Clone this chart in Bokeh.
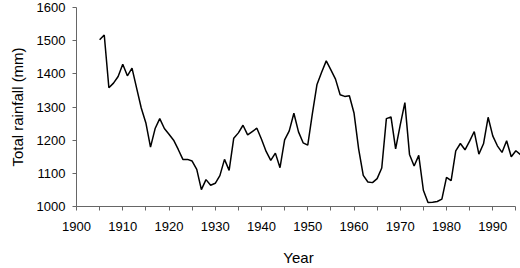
from bokeh.plotting import figure
from bokeh.models import FixedTicker, Range1d
from bokeh.embed import file_html
from bokeh.resources import INLINE

years = list(range(1905, 1997))
rainfall = [
    1503, 1517, 1358, 1372, 1392, 1429, 1394, 1417, 1357, 1297,
    1252, 1179, 1235, 1265, 1235, 1218, 1200, 1172, 1142, 1142,
    1137, 1112, 1051, 1081, 1064, 1070, 1093, 1142, 1109, 1206,
    1222, 1245, 1216, 1226, 1236, 1203, 1166, 1139, 1161, 1117,
    1201, 1228, 1281, 1225, 1192, 1185, 1280, 1368, 1405, 1439,
    1412, 1384, 1337, 1332, 1334, 1282, 1174, 1094, 1074, 1072,
    1084, 1116, 1265, 1270, 1174, 1246, 1313, 1157, 1122, 1154,
    1049, 1012, 1013, 1015, 1022, 1088, 1078, 1168, 1190, 1171,
    1197, 1226, 1158, 1189, 1269, 1213, 1183, 1163, 1198, 1150,
    1168, 1156,
]
x_ticks = list(range(1900, 1991, 10))
x_minor = list(range(1905, 1996, 10))
y_ticks = list(range(1000, 1601, 100))

FONT = "Liberation Sans"

p = figure(width=520, height=268, output_backend="svg", toolbar_location=None,
           x_range=Range1d(1900, 1996), y_range=Range1d(1000, 1600),
           min_border_left=76, min_border_right=0, min_border_top=7,
           min_border_bottom=60)
p.outline_line_color = None
p.grid.visible = False
p.background_fill_color = "white"

p.line(years, rainfall, line_color="black", line_width=1.5)

xa = p.xaxis[0]
xa.ticker = FixedTicker(ticks=x_ticks, minor_ticks=x_minor)
xa.bounds = (1900, 1995)
xa.axis_label = "Year"
ya = p.yaxis[0]
ya.ticker = FixedTicker(ticks=y_ticks)
ya.bounds = (1000, 1600)
ya.axis_label = "Total rainfall (mm)"

for ax in (xa, ya):
    ax.axis_line_color = "#666666"
    ax.major_tick_line_color = "#666666"
    ax.minor_tick_line_color = "#666666"
    ax.major_tick_in = 0
    ax.major_tick_out = 4
    ax.minor_tick_in = 0
    ax.minor_tick_out = 4
    ax.major_label_text_font = FONT
    ax.major_label_text_font_size = "13px"
    ax.major_label_text_color = "black"
    ax.axis_label_text_font = FONT
    ax.axis_label_text_font_size = "15px"
    ax.axis_label_text_font_style = "normal"
    ax.axis_label_text_color = "black"

ya.minor_tick_out = 0
xa.major_label_standoff = 11
xa.axis_label_standoff = 15
ya.major_label_standoff = 7
ya.axis_label_standoff = 8

open("out.html", "w").write(file_html(p, INLINE))
